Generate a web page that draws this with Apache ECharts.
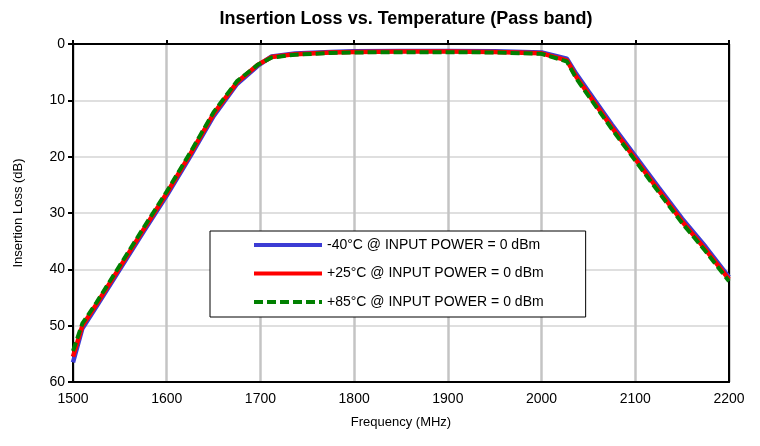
<!DOCTYPE html>
<html>
<head>
<meta charset="utf-8">
<script src="https://cdn.jsdelivr.net/npm/echarts@6/dist/echarts.min.js"></script>
<style>
html,body{margin:0;padding:0;background:#fff;}
#chart{width:760px;height:446px;}
</style>
</head>
<body>
<div id="chart"></div>
<script>
var freq = [1500, 1510, 1525, 1550, 1575, 1600, 1625, 1650, 1675, 1697, 1712, 1737, 1775, 1800, 1850, 1900, 1950, 2000, 2027, 2037, 2050, 2075, 2100, 2125, 2150, 2175, 2200];
var lossM40 = [56.5, 50.5, 46.6, 40.0, 33.4, 26.9, 20.0, 12.8, 7.1, 3.9, 2.2, 1.7, 1.4, 1.3, 1.25, 1.25, 1.3, 1.5, 2.6, 5.3, 8.4, 14.3, 19.9, 25.5, 31.0, 36.0, 41.4];
var loss25 = [55.5, 50.0, 46.2, 39.6, 33.0, 26.5, 19.6, 12.4, 6.8, 3.7, 2.3, 1.8, 1.5, 1.4, 1.35, 1.35, 1.4, 1.65, 2.9, 5.8, 8.9, 14.8, 20.4, 26.0, 31.5, 36.5, 41.8];
var loss85 = [54.5, 49.6, 45.9, 39.3, 32.7, 26.2, 19.3, 12.1, 6.6, 3.7, 2.4, 1.9, 1.6, 1.5, 1.45, 1.45, 1.5, 1.75, 3.1, 6.1, 9.2, 15.1, 20.7, 26.3, 31.8, 36.8, 42.1];
var seriesNames = ['-40°C @ INPUT POWER = 0 dBm', '+25°C @ INPUT POWER = 0 dBm', '+85°C @ INPUT POWER = 0 dBm'];

function pairs(xs, ys) {
  return xs.map(function (x, i) { return [x, ys[i]]; });
}

var FONT = 'Liberation Sans, Arial, sans-serif';
var chart = echarts.init(document.getElementById('chart'), null, {renderer: 'canvas'});
chart.setOption({
  backgroundColor: '#ffffff',
  animation: false,
  textStyle: {fontFamily: FONT},
  title: {
    text: 'Insertion Loss vs. Temperature (Pass band)',
    left: 401,
    textAlign: 'center',
    top: 5,
    textStyle: {fontFamily: FONT, fontSize: 18, fontWeight: 'bold', color: '#000'}
  },
  grid: {left: 73, right: 31, top: 44, bottom: 64, containLabel: false},
  legend: {
    orient: 'vertical',
    left: 210,
    top: 231,
    data: seriesNames,
    itemWidth: 68,
    itemHeight: 14,
    itemGap: 14.5,
    padding: [7, 42, 8, 42],
    borderColor: '#000',
    borderWidth: 1,
    backgroundColor: '#fff',
    itemStyle: {opacity: 0},
    lineStyle: {width: 4},
    textStyle: {fontFamily: FONT, fontSize: 14, color: '#000'}
  },
  xAxis: [{
    type: 'value',
    min: 1500, max: 2200, interval: 100,
    position: 'bottom',
    name: 'Frequency (MHz)',
    nameLocation: 'middle',
    nameGap: 34,
    nameTextStyle: {fontFamily: FONT, fontSize: 13, color: '#000'},
    axisLine: {show: true, onZero: false, lineStyle: {color: '#000', width: 2}},
    axisTick: {show: false},
    axisLabel: {fontFamily: FONT, fontSize: 14, color: '#000', margin: 10,
      formatter: function (v) { return String(v); }},
    splitLine: {show: true, lineStyle: {color: '#c4c4c4', width: 2.5}}
  }, {
    type: 'value',
    min: 1500, max: 2200, interval: 100,
    position: 'top',
    axisLine: {show: true, onZero: false, lineStyle: {color: '#000', width: 2}},
    axisTick: {show: true, inside: false, length: 4, lineStyle: {color: '#000', width: 2}},
    axisLabel: {show: false},
    splitLine: {show: false}
  }],
  yAxis: [{
    type: 'value',
    inverse: true,
    min: 0, max: 60, interval: 10,
    position: 'left',
    name: 'Insertion Loss (dB)',
    nameLocation: 'middle',
    nameGap: 48,
    nameTextStyle: {fontFamily: FONT, fontSize: 13, color: '#000'},
    axisLine: {show: true, onZero: false, lineStyle: {color: '#000', width: 2}},
    axisTick: {show: true, inside: false, length: 5, lineStyle: {color: '#000', width: 2}},
    axisLabel: {fontFamily: FONT, fontSize: 14, color: '#000', margin: 8},
    splitLine: {show: true, lineStyle: {color: '#d4d4d4', width: 1.5}}
  }, {
    type: 'value',
    inverse: true,
    min: 0, max: 60, interval: 10,
    position: 'right',
    axisLine: {show: true, onZero: false, lineStyle: {color: '#000', width: 2}},
    axisTick: {show: false},
    axisLabel: {show: false},
    splitLine: {show: false}
  }],
  series: [{
    name: seriesNames[0],
    type: 'line',
    data: pairs(freq, lossM40),
    symbol: 'none',
    color: '#3c3cd4',
    lineStyle: {color: '#3c3cd4', width: 4.5}
  }, {
    name: seriesNames[1],
    type: 'line',
    data: pairs(freq, loss25),
    symbol: 'none',
    color: '#ff0000',
    lineStyle: {color: '#ff0000', width: 4.5}
  }, {
    name: seriesNames[2],
    type: 'line',
    data: pairs(freq, loss85),
    symbol: 'none',
    color: '#008000',
    lineStyle: {color: '#008000', width: 4, type: [9, 4]}
  }]
});
</script>
</body>
</html>
